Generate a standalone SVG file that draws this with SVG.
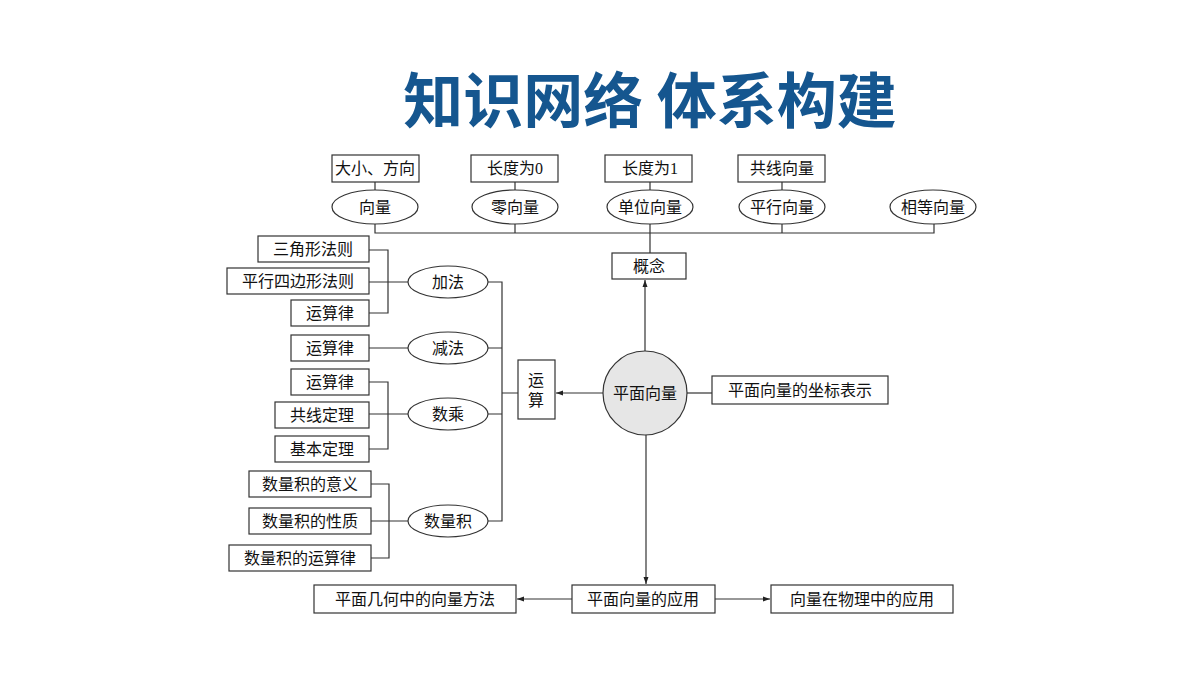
<svg xmlns="http://www.w3.org/2000/svg" width="1200" height="675" viewBox="0 0 1200 675">
<defs>
<marker id="ar" markerWidth="8" markerHeight="8" refX="7" refY="4" orient="auto" markerUnits="userSpaceOnUse"><path d="M0,1.5 L7,4 L0,6.5 Z" fill="#222"/></marker>
<style>
.b{fill:#fff;stroke:#333;stroke-width:1.2}
.t{font-family:"Liberation Serif","Noto Sans CJK SC",serif;font-size:16px;fill:#111;text-anchor:middle;dominant-baseline:central}
.l{fill:none;stroke:#333;stroke-width:1.2}
</style>
</defs>
<rect width="1200" height="675" fill="#fff"/>
<text x="650" y="96" style="font-family:'Noto Sans CJK SC',sans-serif;font-size:60px;font-weight:bold;fill:#15568f;text-anchor:middle;dominant-baseline:central">知识网络 体系构建</text>
<g id="connectors">
<path class="l" d="M375,224V233H934V224M515,224V233M650,224V253M782,224V233M375,182V190M515,182V190M650,182V190M782,182V190"/>
<path class="l" d="M645,351V280" marker-end="url(#ar)"/>
<path class="l" d="M603,393H556" marker-end="url(#ar)"/>
<path class="l" d="M687,393H712"/>
<path class="l" d="M488,282H502V521H488M488,348H502M488,414H502M502,393H518"/>
<path class="l" d="M369,250H388V313H369M369,282H408M369,348H408M369,382H388V449H369M369,414H408M371,484H389V558H371M371,521H408"/>
<path class="l" d="M646,435V584" marker-end="url(#ar)"/>
<path class="l" d="M572,599H517" marker-end="url(#ar)"/>
<path class="l" d="M715,599H770" marker-end="url(#ar)"/>
</g>
<g id="n1"><rect class="b" x="332" y="155" width="87" height="27"/><text class="t" x="375" y="168">大小、方向</text></g>
<g id="n2"><rect class="b" x="471" y="155" width="87" height="27"/><text class="t" x="515" y="168">长度为0</text></g>
<g id="n3"><rect class="b" x="605" y="155" width="87" height="27"/><text class="t" x="650" y="168">长度为1</text></g>
<g id="n4"><rect class="b" x="738" y="155" width="87" height="27"/><text class="t" x="782" y="168">共线向量</text></g>
<g id="e1"><ellipse class="b" cx="375" cy="207" rx="43" ry="17"/><text class="t" x="375" y="207">向量</text></g>
<g id="e2"><ellipse class="b" cx="515" cy="207" rx="43" ry="17"/><text class="t" x="515" y="207">零向量</text></g>
<g id="e3"><ellipse class="b" cx="650" cy="207" rx="43" ry="17"/><text class="t" x="650" y="207">单位向量</text></g>
<g id="e4"><ellipse class="b" cx="782" cy="207" rx="43" ry="17"/><text class="t" x="782" y="207">平行向量</text></g>
<g id="e5"><ellipse class="b" cx="933" cy="207" rx="43" ry="17"/><text class="t" x="933" y="207">相等向量</text></g>
<g id="gainian"><rect class="b" x="612" y="253" width="74" height="26"/><text class="t" x="649" y="266">概念</text></g>
<g id="center"><circle cx="645" cy="393" r="42" fill="#e6e6e6" stroke="#333" stroke-width="1.2"/><text class="t" x="645" y="393">平面向量</text></g>
<g id="zuobiao"><rect class="b" x="712" y="376" width="176" height="28"/><text class="t" x="800" y="390">平面向量的坐标表示</text></g>
<g id="yunsuan"><rect class="b" x="518" y="360" width="37" height="59"/><text class="t" x="536" y="380">运</text><text class="t" x="536" y="400">算</text></g>
<g id="jia"><ellipse class="b" cx="448" cy="282" rx="40" ry="16"/><text class="t" x="448" y="282">加法</text></g>
<g id="jian"><ellipse class="b" cx="448" cy="348" rx="40" ry="16"/><text class="t" x="448" y="348">减法</text></g>
<g id="cheng"><ellipse class="b" cx="448" cy="414" rx="40" ry="16"/><text class="t" x="448" y="414">数乘</text></g>
<g id="ji"><ellipse class="b" cx="448" cy="521" rx="40" ry="16"/><text class="t" x="448" y="521">数量积</text></g>
<g id="a1"><rect class="b" x="258" y="236" width="111" height="26"/><text class="t" x="313" y="249">三角形法则</text></g>
<g id="a2"><rect class="b" x="227" y="268" width="142" height="26"/><text class="t" x="298" y="281">平行四边形法则</text></g>
<g id="a3"><rect class="b" x="291" y="300" width="78" height="26"/><text class="t" x="330" y="313">运算律</text></g>
<g id="s1"><rect class="b" x="291" y="335" width="78" height="26"/><text class="t" x="330" y="348">运算律</text></g>
<g id="m1"><rect class="b" x="291" y="369" width="78" height="26"/><text class="t" x="330" y="382">运算律</text></g>
<g id="m2"><rect class="b" x="275" y="402" width="94" height="26"/><text class="t" x="322" y="415">共线定理</text></g>
<g id="m3"><rect class="b" x="275" y="436" width="94" height="26"/><text class="t" x="322" y="449">基本定理</text></g>
<g id="d1"><rect class="b" x="249" y="471" width="122" height="26"/><text class="t" x="310" y="484">数量积的意义</text></g>
<g id="d2"><rect class="b" x="249" y="508" width="122" height="26"/><text class="t" x="310" y="521">数量积的性质</text></g>
<g id="d3"><rect class="b" x="229" y="545" width="142" height="26"/><text class="t" x="300" y="558">数量积的运算律</text></g>
<g id="app"><rect class="b" x="572" y="585" width="143" height="28"/><text class="t" x="643" y="599">平面向量的应用</text></g>
<g id="geo"><rect class="b" x="314" y="585" width="202" height="28"/><text class="t" x="415" y="599">平面几何中的向量方法</text></g>
<g id="phy"><rect class="b" x="771" y="585" width="182" height="28"/><text class="t" x="862" y="599">向量在物理中的应用</text></g>
</svg>
